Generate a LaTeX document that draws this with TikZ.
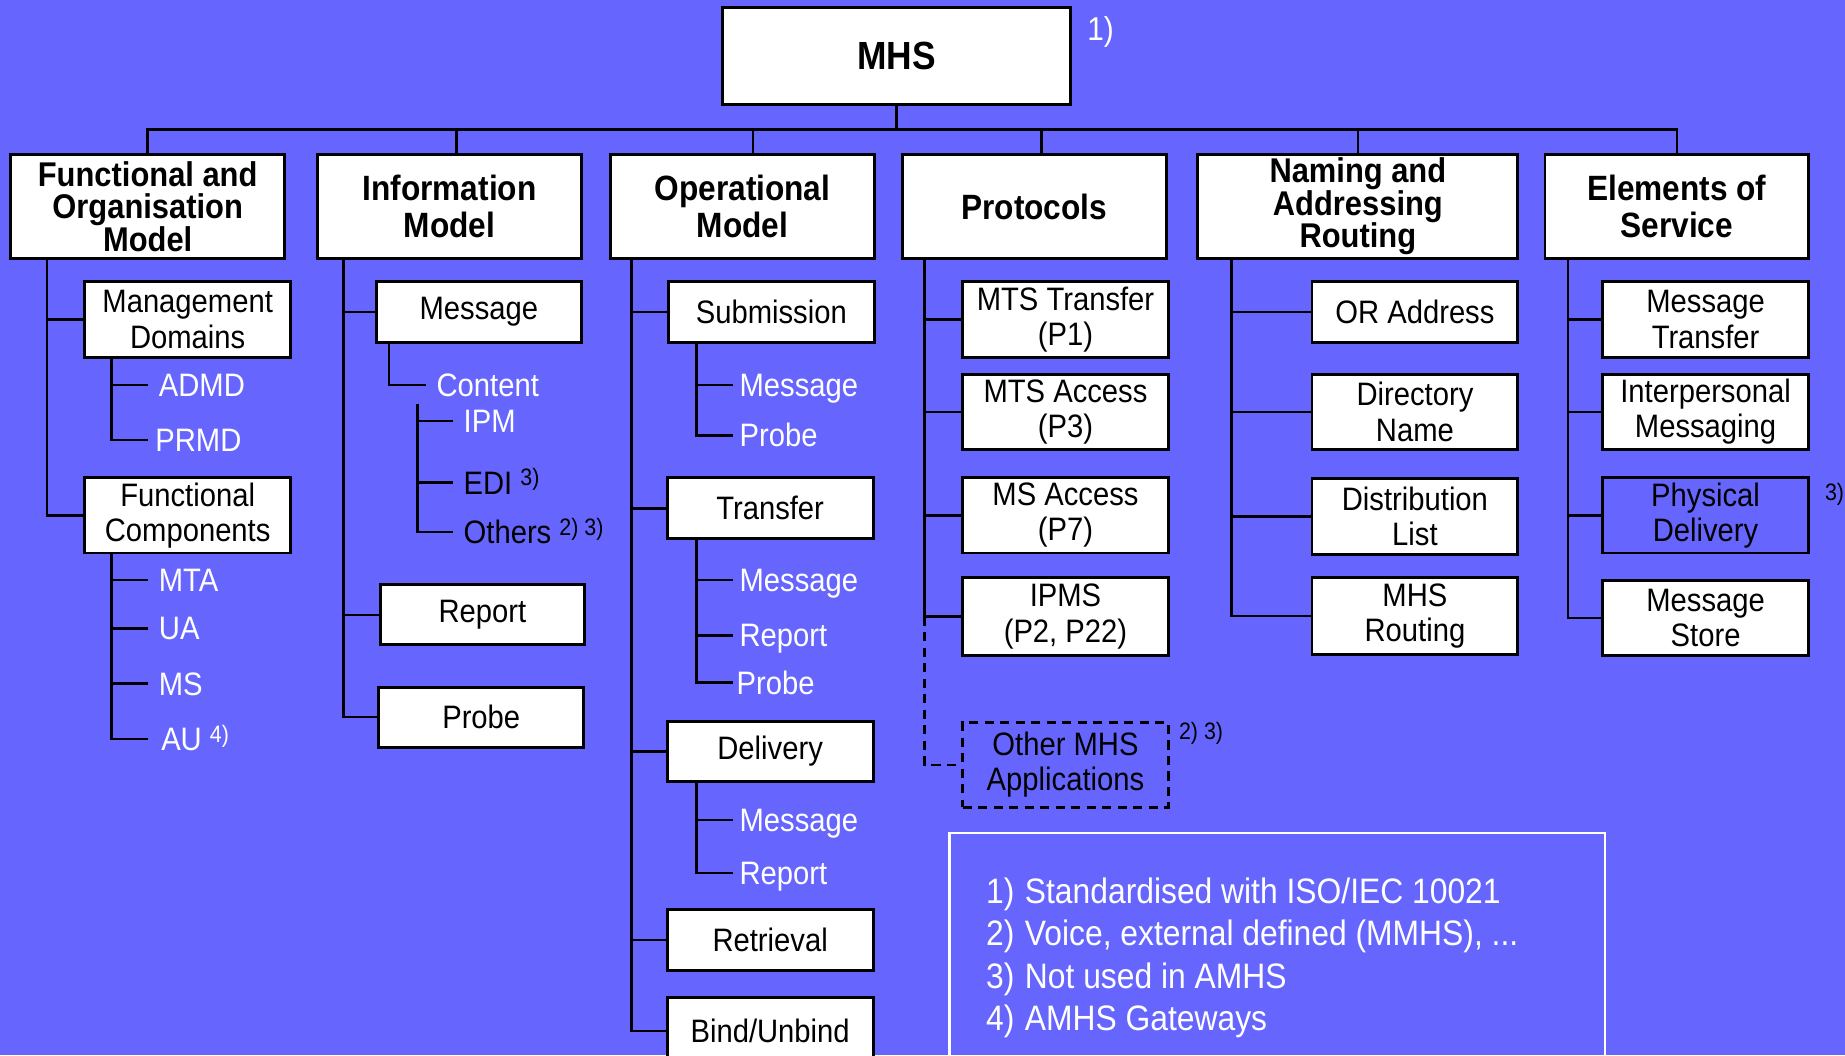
\documentclass[tikz,border=0pt]{standalone}
\usepackage{fontspec}
\setmainfont{Liberation Sans}[FakeStretch=0.9]
\definecolor{bgblue}{RGB}{102,102,255}
\newcommand\fnm[1]{\raisebox{4pt}{\fontsize{11.5}{13}\selectfont #1}}
\newcommand\tightlines{\lineskiplimit=-10pt\relax\lineskip=0pt\relax}
\newcommand\mybox[7]{\node[#7, minimum width={(#4-#2)*0.02cm}, minimum height={(#5-#3)*0.02cm}] (#1) at ({(#2+#4)/2},{(#3+#5)/2}) {#6};}
\begin{document}
\begin{tikzpicture}[x=0.02cm,y=-0.02cm,
  line width=1.2pt,
  hbox/.style={draw, fill=white, line width=1.4pt, align=center, inner sep=0pt, font=\bfseries\fontsize{17}{18.2}\selectfont},
  hboxiii/.style={hbox, font=\bfseries\fontsize{16.6}{15.8}\selectfont\tightlines},
  cbox/.style={draw, fill=white, line width=1.4pt, align=center, inner sep=0pt, font=\fontsize{15.7}{17}\selectfont},
  leaf/.style={anchor=west, inner ysep=0pt, inner xsep=0.16cm, text height=11.2pt, text depth=0pt, text=white, font=\fontsize{15.7}{17}\selectfont},
  leafo/.style={leaf, inner xsep=0.09cm},
  leafk/.style={leaf, text=black},
  note/.style={anchor=west, inner sep=0pt, text=white, text height=12.2pt, text depth=0pt, font=\fontsize{17.1}{20}\selectfont},
  fnmark/.style={anchor=west, inner sep=0pt, font=\fontsize{11.5}{13}\selectfont},
]
\useasboundingbox (0,0) rectangle (1568,897);
\fill[bgblue] (0,0) rectangle (1568,897);
\begin{scope}
\clip (0,0) rectangle (1568,897);

% root
\mybox{mhs}{614}{6}{910}{89}{MHS}{hbox, font=\bfseries\fontsize{19}{21}\selectfont}
\node[anchor=west, inner sep=0pt, text=white, font=\fontsize{16}{18}\selectfont] (m1note) at (923,27) {1)};

% headings
\mybox{fom}{9}{131}{242}{220}{Functional and\\Organisation\\Model}{hboxiii}
\mybox{info}{270}{131}{494}{220}{Information\\Model}{hbox}
\mybox{oper}{519}{131}{743}{220}{Operational\\Model}{hbox}
\mybox{proto}{767}{131}{991}{220}{Protocols}{hbox}
\mybox{naming}{1018}{131}{1290}{220}{Naming and\\Addressing\\Routing}{hboxiii}
\mybox{elem}{1313}{131}{1537}{220}{Elements of\\Service}{hbox}

\coordinate (bus) at (762,110);
\draw (mhs.south) -- (bus);
\draw (fom.north) |- (bus);
\draw ([xshift=0.12cm]info.north) |- (bus);
\draw ([xshift=0.18cm]oper.north) |- (bus);
\draw ([xshift=0.12cm]proto.north) |- (bus);
\draw (naming.north) |- (bus);
\draw (elem.north) |- (bus);

% column 1
\mybox{mgmt}{72}{239}{247}{304}{Management\\Domains}{cbox}
\mybox{fc}{72}{406}{247}{470}{Functional\\Components}{cbox}
\coordinate (t1) at ([xshift=0.64cm]fom.south west);
\draw (t1) |- (mgmt.west);
\draw (t1) |- (fc.west);
\node[leaf] (admd) at (126,327) {ADMD};
\node[leaf, inner xsep=0.1cm] (prmd) at (126,374) {PRMD};
\coordinate (mg) at ([xshift=0.48cm]mgmt.south west);
\draw (mg) |- (admd.west);
\draw (mg) |- (prmd.west);
\node[leaf] (mta) at (126,493) {MTA};
\node[leaf] (ua) at (126,534) {UA};
\node[leaf] (msl) at (126,581) {MS};
\node[leaf, inner xsep=0.2cm] (au) at (126,628) {AU \fnm{4)}};
\coordinate (fcc) at ([xshift=0.48cm]fc.south west);
\draw (fcc) |- (mta.west);
\draw (fcc) |- (ua.west);
\draw (fcc) |- (msl.west);
\draw (fcc) |- (au.west);

% column 2
\mybox{imsg}{320}{239}{494}{291}{Message}{cbox}
\mybox{irep}{323}{497}{497}{548}{Report}{cbox}
\mybox{iprb}{322}{584}{496}{635}{Probe}{cbox}
\coordinate (t2) at ([xshift=0.46cm]info.south west);
\draw (t2) |- (imsg.west);
\draw (t2) |- (irep.west);
\draw (t2) |- (iprb.west);
\node[leaf] (content) at (362,327) {Content};
\draw ([xshift=0.24cm]imsg.south west) |- (content.west);
\node[leaf] (ipml) at (385,358) {IPM};
\node[leafk] (edi) at (385,410) {EDI \fnm{3)}};
\node[leafk] (others) at (385,452) {Others \fnm{2) 3)}};
\coordinate (cc) at (355,343);
\draw (cc) |- (ipml.west);
\draw (cc) |- (edi.west);
\draw (cc) |- (others.west);

% column 3
\mybox{sub}{568}{239}{743}{291}{Submission}{cbox}
\mybox{tra}{567}{406}{742}{458}{Transfer}{cbox}
\mybox{del}{567}{613}{742}{664}{Delivery}{cbox}
\mybox{ret}{567}{773}{742}{825}{Retrieval}{cbox}
\mybox{bind}{567}{848}{742}{904}{Bind/Unbind}{cbox}
\coordinate (t3) at ([xshift=0.38cm]oper.south west);
\draw (t3) |- (sub.west);
\draw (t3) |- (tra.west);
\draw (t3) |- (del.west);
\draw (t3) |- (ret.west);
\draw (t3) |- (bind.west);
\node[leafo] (smsg) at (623,327) {Message};
\node[leafo] (sprb) at (623,370) {Probe};
\coordinate (sc) at ([xshift=0.5cm]sub.south west);
\draw (sc) |- (smsg.west);
\draw (sc) |- (sprb.west);
\node[leafo] (tmsg) at (623,493) {Message};
\node[leafo] (trep) at (623,540) {Report};
\node[leafo, inner xsep=0.04cm] (tprb) at (623,580) {Probe};
\coordinate (tc) at ([xshift=0.52cm]tra.south west);
\draw (tc) |- (tmsg.west);
\draw (tc) |- (trep.west);
\draw (tc) |- (tprb.west);
\node[leafo] (dmsg) at (623,697) {Message};
\node[leafo] (drep) at (623,742) {Report};
\coordinate (dc) at ([xshift=0.52cm]del.south west);
\draw (dc) |- (dmsg.west);
\draw (dc) |- (drep.west);

% column 4
\mybox{p1}{818}{239}{993}{304}{MTS Transfer\\(P1)}{cbox}
\mybox{p3}{818}{318}{993}{382}{MTS Access\\(P3)}{cbox}
\mybox{p7}{818}{406}{993}{470}{MS Access\\(P7)}{cbox}
\mybox{ipms}{818}{491}{993}{557}{IPMS\\(P2, P22)}{cbox}
\mybox{other}{818}{614}{993}{686}{Other MHS\\Applications}{cbox, fill=none, dash pattern=on 4.5pt off 3pt}
\node[fnmark] (m23) at (1001,623) {2) 3)};
\coordinate (t4) at ([xshift=0.4cm]proto.south west);
\draw (t4) |- (p1.west);
\draw (t4) |- (p3.west);
\draw (t4) |- (p7.west);
\draw (t4) |- (ipms.west);
\draw[dash pattern=on 4.5pt off 3pt] (t4 |- ipms.west) |- (other.west);

% column 5
\mybox{ora}{1115}{239}{1290}{291}{OR Address}{cbox}
\mybox{dir}{1115}{318}{1290}{382}{Directory\\Name}{cbox}
\mybox{dl}{1115}{407}{1290}{471}{Distribution\\List}{cbox}
\mybox{rout}{1115}{491}{1290}{556}{MHS\\Routing}{cbox}
\coordinate (t5) at ([xshift=0.6cm]naming.south west);
\draw (t5) |- (ora.west);
\draw (t5) |- (dir.west);
\draw (t5) |- (dl.west);
\draw (t5) |- (rout.west);

% column 6
\mybox{mt}{1362}{239}{1537}{304}{Message\\Transfer}{cbox}
\mybox{ipm}{1362}{318}{1537}{382}{Interpersonal\\Messaging}{cbox}
\mybox{pd}{1362}{406}{1537}{470}{Physical\\Delivery}{cbox, fill=bgblue}
\mybox{mstore}{1362}{493}{1537}{557}{Message\\Store}{cbox}
\node[fnmark] (m3) at (1550,420) {3)};
\coordinate (t6) at ([xshift=0.42cm]elem.south west);
\draw (t6) |- (mt.west);
\draw (t6) |- (ipm.west);
\draw (t6) |- (pd.west);
\draw (t6) |- (mstore.west);

% notes
\mybox{notes}{807}{708}{1364}{940}{}{draw=white, line width=1.3pt}
\node[note] (f1) at (837,757) {\makebox[0.66cm][l]{1)}Standardised with ISO/IEC 10021};
\node[note] (f2) at (837,793) {\makebox[0.66cm][l]{2)}Voice, external defined (MMHS), ...};
\node[note] (f3) at (837,829) {\makebox[0.66cm][l]{3)}Not used in AMHS};
\node[note] (f4) at (837,865) {\makebox[0.66cm][l]{4)}AMHS Gateways};
\end{scope}
\end{tikzpicture}
\end{document}
